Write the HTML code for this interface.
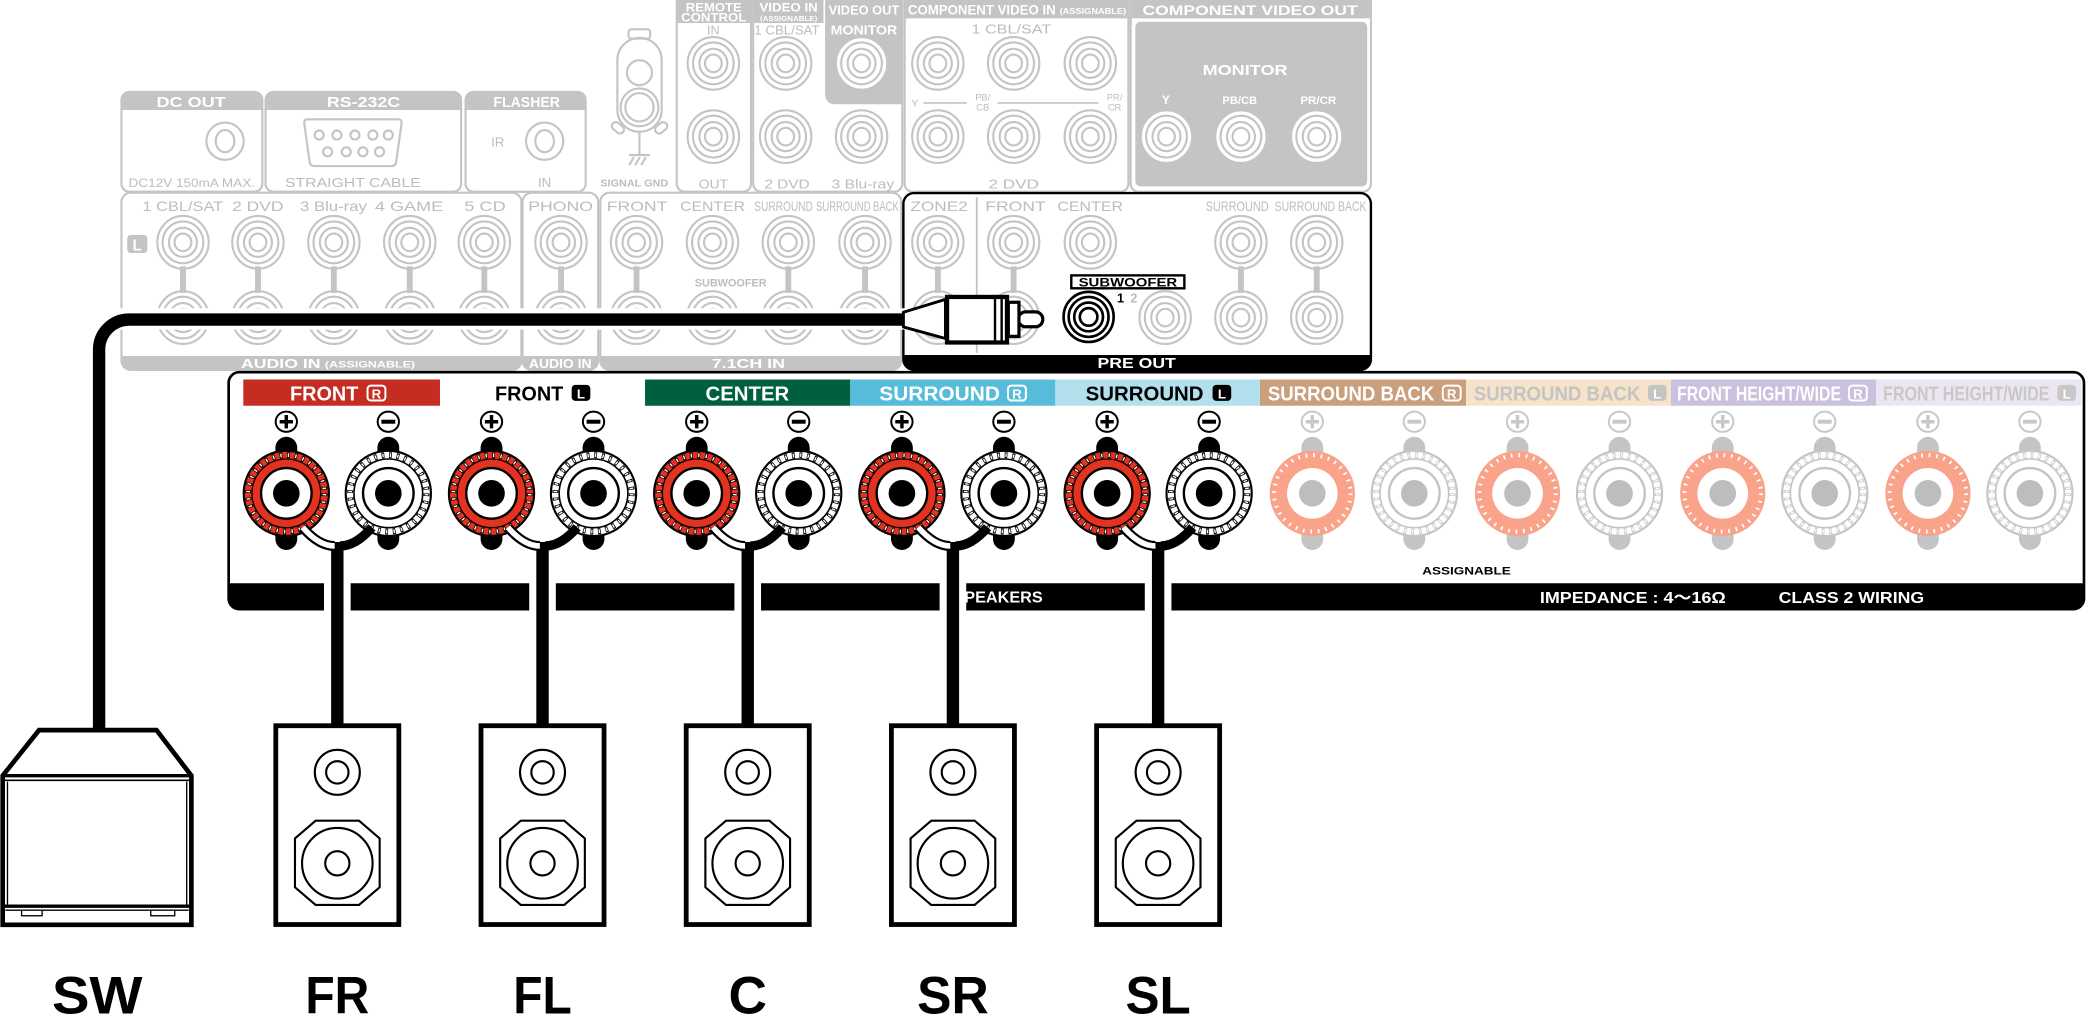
<!DOCTYPE html>
<html><head><meta charset="utf-8">
<style>
html,body{margin:0;padding:0;background:#fff;}
svg{display:block;}
text{font-family:"Liberation Sans","Noto Sans CJK JP",Arial,sans-serif;}
.g{fill:#bcbcbc;}
.hw{fill:#fff;font-weight:bold;}
.b{font-weight:bold;}
</style></head><body>
<svg width="2088" height="1028" viewBox="0 0 1568 772" xmlns="http://www.w3.org/2000/svg">
<defs>
<g id="jk" fill="none" stroke="#c4c4c4" stroke-width="1.6"><ellipse rx="19.3" ry="19.8"/><ellipse rx="15.3" ry="15.7"/><ellipse rx="10.5" ry="10.9"/><ellipse rx="6.3" ry="6.6"/></g>
<g id="jkw" fill="none" stroke="#c4c4c4" stroke-width="1.6"><ellipse rx="19.3" ry="19.8" fill="#fff"/><ellipse rx="15.3" ry="15.7"/><ellipse rx="10.5" ry="10.9"/><ellipse rx="6.3" ry="6.6"/></g>
<g id="tp">
<rect x="-8.2" y="-42.5" width="16.4" height="85" rx="8.2" fill="#000"/>
<circle r="32" fill="#e3321f" stroke="#000" stroke-width="1.6"/>
<circle r="28.7" fill="none" stroke="#000" stroke-width="4.4" stroke-dasharray="2.1 3.55"/>
<circle r="28.7" fill="none" stroke="#fff" stroke-width="2.8" stroke-dasharray="1 4.65" stroke-dashoffset="-0.55"/>
<circle r="25.8" fill="none" stroke="#000" stroke-width="1"/>
<circle r="19" fill="#fff" stroke="#000" stroke-width="1.8"/>
<circle r="10" fill="#000"/>
</g>
<g id="tm">
<rect x="-8.2" y="-42.5" width="16.4" height="85" rx="8.2" fill="#000"/>
<circle r="32" fill="#fff" stroke="#000" stroke-width="1.6"/>
<circle r="28.7" fill="none" stroke="#000" stroke-width="4.4" stroke-dasharray="2.1 3.55"/>
<circle r="28.7" fill="none" stroke="#fff" stroke-width="2.8" stroke-dasharray="1 4.65" stroke-dashoffset="-0.55"/>
<circle r="25.8" fill="#fff" stroke="#000" stroke-width="1.2"/>
<circle r="19" fill="#fff" stroke="#000" stroke-width="1.8"/>
<circle r="10" fill="#000"/>
</g>
<g id="tpg">
<rect x="-8.2" y="-42.5" width="16.4" height="85" rx="8.2" fill="#c4c4c4"/>
<circle r="32" fill="#f9a38b"/>
<circle r="28.7" fill="none" stroke="#fff" stroke-width="3" stroke-dasharray="1.3 4.35"/>
<circle r="19" fill="#fff"/>
<circle r="10" fill="#bdbdbd"/>
</g>
<g id="tmg">
<rect x="-8.2" y="-42.5" width="16.4" height="85" rx="8.2" fill="#c4c4c4"/>
<circle r="32" fill="#fff" stroke="#c4c4c4" stroke-width="1.6"/>
<circle r="28.7" fill="none" stroke="#c8c8c8" stroke-width="4.4" stroke-dasharray="2.1 3.55"/>
<circle r="28.7" fill="none" stroke="#fff" stroke-width="2.8" stroke-dasharray="1 4.65" stroke-dashoffset="-0.55"/>
<circle r="25.8" fill="#fff" stroke="#c4c4c4" stroke-width="1.2"/>
<circle r="19" fill="#fff" stroke="#c4c4c4" stroke-width="1.8"/>
<circle r="10" fill="#bdbdbd"/>
</g>
<g id="sp"><ellipse rx="8" ry="7.6" fill="#fff" stroke="#000" stroke-width="1.5"/><path d="M-5,0H5M0,-5V5" stroke="#000" stroke-width="2.6"/></g>
<g id="sm"><ellipse rx="8" ry="7.6" fill="#fff" stroke="#000" stroke-width="1.5"/><path d="M-5.2,0H5.2" stroke="#000" stroke-width="3"/></g>
<g id="spg"><ellipse rx="8" ry="7.6" fill="#fff" stroke="#c8c8c8" stroke-width="1.5"/><path d="M-5,0H5M0,-5V5" stroke="#c8c8c8" stroke-width="2.6"/></g>
<g id="smg"><ellipse rx="8" ry="7.6" fill="#fff" stroke="#c8c8c8" stroke-width="1.5"/><path d="M-5.2,0H5.2" stroke="#c8c8c8" stroke-width="3"/></g>
<g id="spk">
<rect x="-46.2" y="545" width="92.4" height="149.3" fill="#fff" stroke="#000" stroke-width="3.6"/>
<g fill="none" stroke="#000" stroke-width="1.6">
<circle cy="580" r="16.9"/><circle cy="580" r="8.4"/>
<path d="M-16.3,616.3H16.3L31.8,629.6V666.3L16.3,679.6H-16.3L-31.8,666.3V629.6Z" stroke-linejoin="round"/>
<circle cy="648.3" r="26.5"/><circle cy="648.3" r="9.1"/>
</g>
</g>
</defs>

<!-- ============ TOP ROW 1 (DC OUT, RS-232C, FLASHER) ============ -->
<g fill="none" stroke="#c4c4c4" stroke-width="1.6">
<rect x="91.2" y="69" width="105.8" height="75" rx="6"/>
<rect x="199.4" y="69" width="146.9" height="75" rx="6"/>
<rect x="349.6" y="69" width="90.2" height="75" rx="6"/>
</g>
<g fill="#c4c4c4">
<path d="M91.2,82.6V75Q91.2,69 97.2,69H191Q197,69 197,75V82.6Z"/>
<path d="M199.4,82.6V75Q199.4,69 205.4,69H340.3Q346.3,69 346.3,75V82.6Z"/>
<path d="M349.6,82.6V75Q349.6,69 355.6,69H433.8Q439.8,69 439.8,75V82.6Z"/>
</g>
<text class="hw" x="143.5" y="80.3" font-size="11" text-anchor="middle" textLength="52" lengthAdjust="spacingAndGlyphs">DC OUT</text>
<text class="hw" x="273" y="80.3" font-size="11" text-anchor="middle" textLength="55" lengthAdjust="spacingAndGlyphs">RS-232C</text>
<text class="hw" x="395.5" y="80.3" font-size="11" text-anchor="middle" textLength="50" lengthAdjust="spacingAndGlyphs">FLASHER</text>
<g fill="none" stroke="#c4c4c4" stroke-width="1.6">
<circle cx="169" cy="106" r="14"/><ellipse cx="169" cy="106" rx="7" ry="8.3"/>
<circle cx="409" cy="106" r="14"/><ellipse cx="409" cy="106" rx="7" ry="8.3"/>
<path d="M231,89.6H299Q302,89.6 301.5,93L297.5,121.5Q297,124.7 294,124.7H236Q233,124.7 232.5,121.5L228.5,93Q228,89.6 231,89.6Z"/>
<circle cx="239.7" cy="101.4" r="3.4"/><circle cx="253" cy="101.4" r="3.4"/><circle cx="266.5" cy="101.4" r="3.4"/><circle cx="280" cy="101.4" r="3.4"/><circle cx="291.6" cy="101.4" r="3.4"/>
<circle cx="246" cy="114" r="3.4"/><circle cx="260" cy="114" r="3.4"/><circle cx="272.5" cy="114" r="3.4"/><circle cx="285" cy="114" r="3.4"/>
</g>
<text class="g" x="144" y="140.5" font-size="8.7" text-anchor="middle" textLength="95" lengthAdjust="spacingAndGlyphs">DC12V 150mA MAX.</text>
<text class="g" x="265" y="140.5" font-size="9.5" text-anchor="middle" textLength="102" lengthAdjust="spacingAndGlyphs">STRAIGHT CABLE</text>
<text class="g" x="373.8" y="110" font-size="10" text-anchor="middle">IR</text>
<text class="g" x="409" y="140.5" font-size="10" text-anchor="middle">IN</text>

<!-- Signal GND -->
<g fill="none" stroke="#c4c4c4" stroke-width="1.6">
<rect x="472" y="22" width="16.2" height="7" rx="2"/>
<rect x="463.6" y="28.5" width="33.3" height="70.5" rx="16.5"/>
<circle cx="480.2" cy="54.6" r="9.4"/>
<circle cx="480.2" cy="80.6" r="14.2"/><circle cx="480.2" cy="80.6" r="10.6"/>
<path d="M480.2,99V116.4M472.5,116.4H488M476,118L472.5,124M480.5,118L477,124M485,118L481.5,124"/>
</g>
<g fill="#fff" stroke="#c4c4c4" stroke-width="1.6">
<rect x="459" y="93" width="10" height="6" rx="3" transform="rotate(40 464 96)"/>
<rect x="491.5" y="93" width="10" height="6" rx="3" transform="rotate(-40 496.5 96)"/>
</g>
<text class="g b" x="476.3" y="140.2" font-size="7.6" text-anchor="middle" textLength="51" lengthAdjust="spacingAndGlyphs">SIGNAL GND</text>

<!-- ============ TOP ROW 2 ============ -->
<g fill="none" stroke="#c4c4c4" stroke-width="1.6">
<rect x="508.2" y="-10" width="55.8" height="154" rx="6"/>
<rect x="565.6" y="-10" width="112" height="154" rx="6"/>
<rect x="679.4" y="-10" width="168" height="154" rx="6"/>
<rect x="849.1" y="-10" width="180.4" height="154" rx="6"/>
</g>
<g fill="#c4c4c4">
<rect x="508.2" y="0" width="55.8" height="17.3"/>
<rect x="565.6" y="0" width="52.8" height="17.3"/>
<path d="M619.6,0H677.6V78.3H627.6Q619.6,78.3 619.6,70.3Z"/>
<rect x="679.4" y="0" width="168" height="13.8"/>
<rect x="849.1" y="0" width="180.4" height="13.8"/>
<rect x="852.6" y="16.3" width="174.1" height="123.7" rx="4"/>
</g>
<text class="hw" x="536" y="8.6" font-size="8.8" text-anchor="middle" textLength="42" lengthAdjust="spacingAndGlyphs">REMOTE</text>
<text class="hw" x="536" y="16.3" font-size="8.8" text-anchor="middle" textLength="49" lengthAdjust="spacingAndGlyphs">CONTROL</text>
<text class="hw" x="592.2" y="8.6" font-size="8.8" text-anchor="middle" textLength="43.8" lengthAdjust="spacingAndGlyphs">VIDEO IN</text>
<text class="hw" x="592.2" y="15.6" font-size="5.8" text-anchor="middle" textLength="43" lengthAdjust="spacingAndGlyphs">(ASSIGNABLE)</text>
<text class="hw" x="648.8" y="10.8" font-size="10" text-anchor="middle" textLength="53" lengthAdjust="spacingAndGlyphs">VIDEO OUT</text>
<text class="hw" x="648.8" y="25.8" font-size="9.5" text-anchor="middle" textLength="50" lengthAdjust="spacingAndGlyphs">MONITOR</text>
<text class="hw" x="681.8" y="11" font-size="10.5" textLength="111" lengthAdjust="spacingAndGlyphs">COMPONENT VIDEO IN</text>
<text class="hw" x="795.7" y="10.5" font-size="6.5" textLength="50" lengthAdjust="spacingAndGlyphs">(ASSIGNABLE)</text>
<text class="hw" x="938.8" y="11.2" font-size="10.5" text-anchor="middle" textLength="161.7" lengthAdjust="spacingAndGlyphs">COMPONENT VIDEO OUT</text>
<text class="hw" x="935" y="56.5" font-size="11" text-anchor="middle" textLength="63.8" lengthAdjust="spacingAndGlyphs">MONITOR</text>
<text class="hw" x="875.5" y="78" font-size="9" text-anchor="middle">Y</text>
<text class="hw" x="931" y="78" font-size="8.5" text-anchor="middle" textLength="26" lengthAdjust="spacingAndGlyphs">PB/CB</text>
<text class="hw" x="990" y="78" font-size="8.5" text-anchor="middle" textLength="27" lengthAdjust="spacingAndGlyphs">PR/CR</text>

<text class="g" x="535.7" y="25.8" font-size="9.5" text-anchor="middle">IN</text>
<text class="g" x="535.7" y="141.4" font-size="9.5" text-anchor="middle" textLength="22" lengthAdjust="spacingAndGlyphs">OUT</text>
<text class="g" x="591" y="25.8" font-size="9.5" text-anchor="middle" textLength="49" lengthAdjust="spacingAndGlyphs">1 CBL/SAT</text>
<text class="g" x="591" y="141.4" font-size="9.5" text-anchor="middle" textLength="34" lengthAdjust="spacingAndGlyphs">2 DVD</text>
<text class="g" x="648" y="141.4" font-size="9.5" text-anchor="middle" textLength="47" lengthAdjust="spacingAndGlyphs">3 Blu-ray</text>
<text class="g" x="759.5" y="25" font-size="9.5" text-anchor="middle" textLength="60" lengthAdjust="spacingAndGlyphs">1 CBL/SAT</text>
<text class="g" x="761.2" y="141.4" font-size="9.5" text-anchor="middle" textLength="38" lengthAdjust="spacingAndGlyphs">2 DVD</text>
<text class="g" x="687" y="80.5" font-size="8" text-anchor="middle">Y</text>
<text class="g" x="738" y="75.5" font-size="7" text-anchor="middle">PB/</text>
<text class="g" x="738" y="83" font-size="7" text-anchor="middle">CB</text>
<text class="g" x="837" y="75.5" font-size="7" text-anchor="middle">PR/</text>
<text class="g" x="837" y="83" font-size="7" text-anchor="middle">CR</text>
<path d="M693.5,77.3H726M749,77.3H825" stroke="#c4c4c4" stroke-width="1.2"/>

<use href="#jk" x="535.7" y="47.6"/><use href="#jk" x="535.7" y="102.6"/>
<use href="#jk" x="590" y="47.6"/><use href="#jk" x="590" y="102.6"/>
<use href="#jkw" x="647" y="47.6"/><use href="#jk" x="647" y="102.6"/>
<use href="#jk" x="704.3" y="47.6"/><use href="#jk" x="704.3" y="102.6"/>
<use href="#jk" x="761.2" y="47.6"/><use href="#jk" x="761.2" y="102.6"/>
<use href="#jk" x="818.8" y="47.6"/><use href="#jk" x="818.8" y="102.6"/>
<use href="#jkw" x="876" y="102.6"/><use href="#jkw" x="931.9" y="102.6"/><use href="#jkw" x="988.8" y="102.6"/>

<!-- ============ MIDDLE ROW ============ -->
<g fill="none" stroke="#c4c4c4" stroke-width="1.6">
<rect x="91.2" y="144.7" width="300.3" height="133.1" rx="7"/>
<rect x="392.4" y="144.7" width="56.8" height="133.1" rx="7"/>
<rect x="450.8" y="144.7" width="226" height="133.1" rx="7"/>
</g>
<g fill="#c4c4c4">
<path d="M91.2,267.3H391.5V271.8Q391.5,277.8 385.5,277.8H97.2Q91.2,277.8 91.2,271.8Z"/>
<path d="M392.4,267.3H449.2V271.8Q449.2,277.8 443.2,277.8H398.4Q392.4,277.8 392.4,271.8Z"/>
<path d="M450.8,267.3H676.8V271.8Q676.8,277.8 670.8,277.8H456.8Q450.8,277.8 450.8,271.8Z"/>
<rect x="95.5" y="176.5" width="15.1" height="13.5" rx="2.5"/>
</g>
<text class="hw" x="103" y="188" font-size="11.5" text-anchor="middle">L</text>
<text class="hw" x="181" y="276.3" font-size="9.5" textLength="59.7" lengthAdjust="spacingAndGlyphs">AUDIO IN</text>
<text class="hw" x="244" y="276" font-size="7" textLength="67.7" lengthAdjust="spacingAndGlyphs">(ASSIGNABLE)</text>
<text class="hw" x="420.7" y="276.3" font-size="9.5" text-anchor="middle" textLength="47" lengthAdjust="spacingAndGlyphs">AUDIO IN</text>
<text class="hw" x="562" y="276.3" font-size="9.5" text-anchor="middle" textLength="55" lengthAdjust="spacingAndGlyphs">7.1CH IN</text>

<g font-size="10.5" text-anchor="middle" class="g">
<text x="137.3" y="158.3" textLength="60.6" lengthAdjust="spacingAndGlyphs">1 CBL/SAT</text>
<text x="193.6" y="158.3" textLength="38.6" lengthAdjust="spacingAndGlyphs">2 DVD</text>
<text x="250.4" y="158.3" textLength="50.2" lengthAdjust="spacingAndGlyphs">3 Blu-ray</text>
<text x="307.2" y="158.3" textLength="51.3" lengthAdjust="spacingAndGlyphs">4 GAME</text>
<text x="364.2" y="158.3" textLength="31.2" lengthAdjust="spacingAndGlyphs">5 CD</text>
<text x="421" y="158.3" textLength="48.6" lengthAdjust="spacingAndGlyphs">PHONO</text>
<text x="478.4" y="158.3" textLength="45.5" lengthAdjust="spacingAndGlyphs">FRONT</text>
<text x="535.1" y="158.3" textLength="48.8" lengthAdjust="spacingAndGlyphs">CENTER</text>
<text x="588.4" y="158.3" textLength="44" lengthAdjust="spacingAndGlyphs">SURROUND</text>
<text x="643.9" y="158.3" textLength="62" lengthAdjust="spacingAndGlyphs">SURROUND BACK</text>
<text x="705.2" y="158.3" textLength="43.1" lengthAdjust="spacingAndGlyphs">ZONE2</text>
<text x="762.6" y="158.3" textLength="45.5" lengthAdjust="spacingAndGlyphs">FRONT</text>
<text x="818.7" y="158.3" textLength="49.3" lengthAdjust="spacingAndGlyphs">CENTER</text>
<text x="929" y="158.3" textLength="47.3" lengthAdjust="spacingAndGlyphs">SURROUND</text>
<text x="991.7" y="158.3" textLength="69" lengthAdjust="spacingAndGlyphs">SURROUND BACK</text>
</g>
<text class="g b" x="548.7" y="215" font-size="8" text-anchor="middle" textLength="54" lengthAdjust="spacingAndGlyphs">SUBWOOFER</text>

<!-- bars -->
<g fill="#c4c4c4">
<rect x="135.2" y="200" width="4.4" height="20"/><rect x="191.5" y="200" width="4.4" height="20"/><rect x="248.5" y="200" width="4.4" height="20"/><rect x="305.5" y="200" width="4.4" height="20"/><rect x="361.5" y="200" width="4.4" height="20"/><rect x="419.1" y="200" width="4.4" height="20"/>
<rect x="475.8" y="200" width="4.4" height="20"/><rect x="589.8" y="200" width="4.4" height="20"/><rect x="647.4" y="200" width="4.4" height="20"/>
<rect x="702.1" y="200" width="4.4" height="20"/><rect x="759" y="200" width="4.4" height="20"/><rect x="929.7" y="200" width="4.4" height="20"/><rect x="986.6" y="200" width="4.4" height="20"/>
</g>
<!-- jacks -->
<use href="#jk" x="137.4" y="182"/><use href="#jk" x="137.4" y="238.5"/>
<use href="#jk" x="193.7" y="182"/><use href="#jk" x="193.7" y="238.5"/>
<use href="#jk" x="250.7" y="182"/><use href="#jk" x="250.7" y="238.5"/>
<use href="#jk" x="307.7" y="182"/><use href="#jk" x="307.7" y="238.5"/>
<use href="#jk" x="363.7" y="182"/><use href="#jk" x="363.7" y="238.5"/>
<use href="#jk" x="421.3" y="182"/><use href="#jk" x="421.3" y="238.5"/>
<use href="#jk" x="478" y="182"/><use href="#jk" x="478" y="238.5"/>
<use href="#jk" x="535" y="182"/><use href="#jk" x="535" y="238.5"/>
<use href="#jk" x="592" y="182"/><use href="#jk" x="592" y="238.5"/>
<use href="#jk" x="649.6" y="182"/><use href="#jk" x="649.6" y="238.5"/>
<use href="#jk" x="704.3" y="182"/><use href="#jk" x="704.3" y="238.5"/>
<use href="#jk" x="761.2" y="182"/><use href="#jk" x="761.2" y="238.5"/>
<use href="#jk" x="818.8" y="182"/>
<use href="#jk" x="875" y="238.5"/>
<use href="#jk" x="931.9" y="182"/><use href="#jk" x="931.9" y="238.5"/>
<use href="#jk" x="988.8" y="182"/><use href="#jk" x="988.8" y="238.5"/>

<!-- PRE OUT box -->
<rect x="678.4" y="145" width="351.1" height="132.8" rx="8" fill="none" stroke="#000" stroke-width="1.8"/>
<path d="M733.5,148V265" stroke="#c4c4c4" stroke-width="1.4"/>
<path d="M678.4,266.6H1029.5V269.8Q1029.5,277.8 1021.5,277.8H686.4Q678.4,277.8 678.4,269.8Z" fill="#000"/>
<text class="hw" x="853.6" y="276.2" font-size="11" text-anchor="middle" textLength="58.8" lengthAdjust="spacingAndGlyphs">PRE OUT</text>
<rect x="804.5" y="206.8" width="84.9" height="9.7" fill="#fff" stroke="#000" stroke-width="1.8"/>
<text class="b" x="847" y="215.2" font-size="9" text-anchor="middle" textLength="74" lengthAdjust="spacingAndGlyphs">SUBWOOFER</text>
<g fill="none" stroke="#000" stroke-width="2"><circle cx="817.5" cy="238" r="18.8"/><circle cx="817.5" cy="238" r="15"/><circle cx="817.5" cy="238" r="10.8"/><circle cx="817.5" cy="238" r="6.6"/></g>
<text class="b" x="841.5" y="227" font-size="9.5" text-anchor="middle">1</text>
<text class="g b" x="851.5" y="227" font-size="9.5" text-anchor="middle">2</text>

<!-- cable -->
<rect x="86" y="231.5" width="594" height="16" fill="#fff"/>
<path d="M682,240H97A22.6,22.6 0 0 0 74.4,262.6V548" fill="none" stroke="#000" stroke-width="9.3"/>
<!-- plug -->
<path d="M678.4,234.5L710,224.8V254.2L678.4,245.5Z" fill="#fff" stroke="#000" stroke-width="2.2" stroke-linejoin="round"/>
<rect x="764.7" y="234.2" width="18.4" height="11.2" rx="5.6" fill="#fff" stroke="#000" stroke-width="2.4"/>
<rect x="757.2" y="227" width="8" height="25.6" fill="#fff" stroke="#000" stroke-width="2.4"/>
<rect x="711.2" y="223" width="45" height="34.2" fill="#fff" stroke="#000" stroke-width="3.2"/>
<path d="M747.2,223V257.2M752.2,223V257.2" stroke="#000" stroke-width="1.8"/>

<!-- ============ SPEAKER PANEL ============ -->
<rect x="171.7" y="279.5" width="1393.3" height="178" rx="8" fill="#fff" stroke="#000" stroke-width="2"/>
<path d="M171.7,438H1565V449.6A8,8 0 0 1 1557,457.6H179.7A8,8 0 0 1 171.7,449.6Z" fill="#000"/>
<text class="hw" x="716" y="452.4" font-size="11.5" textLength="67" lengthAdjust="spacingAndGlyphs">SPEAKERS</text>
<text class="hw" x="1156.4" y="453" font-size="12" textLength="139.6" lengthAdjust="spacingAndGlyphs">IMPEDANCE : 4〜16Ω</text>
<text class="hw" x="1335.7" y="453" font-size="12" textLength="109.3" lengthAdjust="spacingAndGlyphs">CLASS 2 WIRING</text>
<text class="b" x="1101.3" y="431.5" font-size="8.5" text-anchor="middle" textLength="66.5" lengthAdjust="spacingAndGlyphs">ASSIGNABLE</text>
<g fill="#fff">
<rect x="243.3" y="436.5" width="20" height="23"/>
<rect x="397.4" y="436.5" width="20" height="23"/>
<rect x="551.5" y="436.5" width="20" height="23"/>
<rect x="705.6" y="436.5" width="20" height="23"/>
<rect x="859.7" y="436.5" width="20" height="23"/>
</g>

<!-- label bands -->
<rect x="182.7" y="285" width="147.7" height="19.7" fill="#c62d22"/>
<rect x="484.4" y="285" width="154.1" height="19.7" fill="#005f3f"/>
<rect x="638.5" y="285" width="154" height="19.7" fill="#56bcd9"/>
<rect x="792.5" y="285" width="153.7" height="19.7" fill="#b3e0ed"/>
<rect x="946.2" y="285" width="154.7" height="19.7" fill="#c9a07b"/>
<rect x="1100.9" y="285" width="153.9" height="19.7" fill="#f6e3c9"/>
<rect x="1254.8" y="285" width="154.2" height="19.7" fill="#cbc0dd"/>
<rect x="1409" y="285" width="154" height="19.7" fill="#ebe6f1"/>

<g font-size="15.5" font-weight="bold">
<text x="217.8" y="300.6" fill="#fff" textLength="51.3" lengthAdjust="spacingAndGlyphs">FRONT</text>
<text x="371.7" y="300.6" fill="#000" textLength="51.3" lengthAdjust="spacingAndGlyphs">FRONT</text>
<text x="529.8" y="300.6" fill="#fff" textLength="62.9" lengthAdjust="spacingAndGlyphs">CENTER</text>
<text x="660.3" y="300.6" fill="#fff" textLength="90.6" lengthAdjust="spacingAndGlyphs">SURROUND</text>
<text x="815.3" y="300.6" fill="#000" textLength="88.5" lengthAdjust="spacingAndGlyphs">SURROUND</text>
<text x="952.1" y="300.6" fill="#fff" textLength="125" lengthAdjust="spacingAndGlyphs">SURROUND BACK</text>
<text x="1106.8" y="300.6" fill="#c4c4c4" textLength="125" lengthAdjust="spacingAndGlyphs">SURROUND BACK</text>
<text x="1259.5" y="300.6" fill="#fff" textLength="123" lengthAdjust="spacingAndGlyphs">FRONT HEIGHT/WIDE</text>
<text x="1414.2" y="300.6" fill="#c8c8c8" textLength="124.9" lengthAdjust="spacingAndGlyphs">FRONT HEIGHT/WIDE</text>
</g>
<!-- badges -->
<g fill="none" stroke="#fff" stroke-width="1.5">
<rect x="276" y="289.6" width="13.4" height="11.2" rx="2.5"/>
<rect x="757" y="289.6" width="13.4" height="11.2" rx="2.5"/>
<rect x="1083.5" y="289.6" width="13.4" height="11.2" rx="2.5"/>
<rect x="1388.5" y="289.6" width="13.4" height="11.2" rx="2.5"/>
</g>
<rect x="429.3" y="289" width="14" height="12" rx="2.8" fill="#000"/>
<rect x="910.6" y="289" width="14" height="12" rx="2.8" fill="#000"/>
<rect x="1237.5" y="289" width="14" height="12" rx="2.8" fill="#c4c4c4"/>
<rect x="1545" y="289" width="14" height="12" rx="2.8" fill="#c8c8c8"/>
<g font-size="10" font-weight="bold" fill="#fff" text-anchor="middle">
<text x="282.7" y="299.2">R</text>
<text x="436.3" y="299.4">L</text>
<text x="763.7" y="299.2">R</text>
<text x="917.6" y="299.4">L</text>
<text x="1090.2" y="299.2">R</text>
<text x="1244.5" y="299.4">L</text>
<text x="1395.2" y="299.2">R</text>
<text x="1552" y="299.4">L</text>
</g>

<!-- signs -->
<use href="#sp" x="215" y="316.7"/><use href="#sm" x="291.6" y="316.7"/>
<use href="#sp" x="369.1" y="316.7"/><use href="#sm" x="445.7" y="316.7"/>
<use href="#sp" x="523.2" y="316.7"/><use href="#sm" x="599.8" y="316.7"/>
<use href="#sp" x="677.3" y="316.7"/><use href="#sm" x="753.9" y="316.7"/>
<use href="#sp" x="831.4" y="316.7"/><use href="#sm" x="908" y="316.7"/>
<use href="#spg" x="985.5" y="316.7"/><use href="#smg" x="1062.1" y="316.7"/>
<use href="#spg" x="1139.6" y="316.7"/><use href="#smg" x="1216.2" y="316.7"/>
<use href="#spg" x="1293.7" y="316.7"/><use href="#smg" x="1370.3" y="316.7"/>
<use href="#spg" x="1447.8" y="316.7"/><use href="#smg" x="1524.4" y="316.7"/>

<!-- terminals -->
<use href="#tp" x="215" y="370.5"/><use href="#tm" x="291.6" y="370.5"/>
<use href="#tp" x="369.1" y="370.5"/><use href="#tm" x="445.7" y="370.5"/>
<use href="#tp" x="523.2" y="370.5"/><use href="#tm" x="599.8" y="370.5"/>
<use href="#tp" x="677.3" y="370.5"/><use href="#tm" x="753.9" y="370.5"/>
<use href="#tp" x="831.4" y="370.5"/><use href="#tm" x="908" y="370.5"/>
<use href="#tpg" x="985.5" y="370.5"/><use href="#tmg" x="1062.1" y="370.5"/>
<use href="#tpg" x="1139.6" y="370.5"/><use href="#tmg" x="1216.2" y="370.5"/>
<use href="#tpg" x="1293.7" y="370.5"/><use href="#tmg" x="1370.3" y="370.5"/>
<use href="#tpg" x="1447.8" y="370.5"/><use href="#tmg" x="1524.4" y="370.5"/>

<!-- speaker wires -->
<g fill="none">
<g stroke="#000" stroke-width="9.3">
<path d="M253.3,407V547M407.4,407V547M561.5,407V547M715.6,407V547M869.7,407V547"/>
</g>
<g stroke="#000" stroke-width="7.5">
<path d="M227.3,396Q239.3,410 251.3,410"/>
<path d="M381.4,396Q393.4,410 405.4,410"/>
<path d="M535.5,396Q547.5,410 559.5,410"/>
<path d="M689.6,396Q701.6,410 713.6,410"/>
<path d="M843.7,396Q855.7,410 867.7,410"/>
</g>
<g stroke="#fff" stroke-width="4.2">
<path d="M227.3,396Q239.3,410 251.3,410"/>
<path d="M381.4,396Q393.4,410 405.4,410"/>
<path d="M535.5,396Q547.5,410 559.5,410"/>
<path d="M689.6,396Q701.6,410 713.6,410"/>
<path d="M843.7,396Q855.7,410 867.7,410"/>
</g>
<g stroke="#000" stroke-width="7">
<path d="M279.3,396Q267.3,410 255.3,410"/>
<path d="M433.4,396Q421.4,410 409.4,410"/>
<path d="M587.5,396Q575.5,410 563.5,410"/>
<path d="M741.6,396Q729.6,410 717.6,410"/>
<path d="M895.7,396Q883.7,410 871.7,410"/>
</g>
</g>

<!-- speakers -->
<use href="#spk" x="253.3"/>
<use href="#spk" x="407.4"/>
<use href="#spk" x="561.5"/>
<use href="#spk" x="715.6"/>
<use href="#spk" x="869.7"/>

<!-- subwoofer -->
<g stroke="#000" fill="#fff">
<path d="M29.3,548.3H117.5L143.7,582.5V694.5H2V582.5Z" stroke-width="3.5" stroke-linejoin="miter"/>
<path d="M2,582.5H143.7" stroke-width="2.5" fill="none"/>
<path d="M2,586H143.7" stroke-width="1.2" fill="none"/>
<path d="M5.6,587V680M140.2,587V680" stroke-width="1" fill="none"/>
<path d="M2,680.5H143.7" stroke-width="2.5" fill="none"/>
<path d="M4,683.5H141.7" stroke-width="1" fill="none"/>
<rect x="16.2" y="683.5" width="15.4" height="4.2" stroke-width="1"/>
<rect x="113.2" y="683.5" width="18" height="4.2" stroke-width="1"/>
</g>

<!-- labels -->
<g font-size="40" font-weight="bold" text-anchor="middle" fill="#000">
<text x="73" y="761" textLength="68" lengthAdjust="spacingAndGlyphs">SW</text>
<text x="253.3" y="761" textLength="48" lengthAdjust="spacingAndGlyphs">FR</text>
<text x="407.4" y="761" textLength="44" lengthAdjust="spacingAndGlyphs">FL</text>
<text x="561.5" y="761">C</text>
<text x="715.6" y="761" textLength="53.8" lengthAdjust="spacingAndGlyphs">SR</text>
<text x="869.7" y="761" textLength="49" lengthAdjust="spacingAndGlyphs">SL</text>
</g>
</svg>
</body></html>
